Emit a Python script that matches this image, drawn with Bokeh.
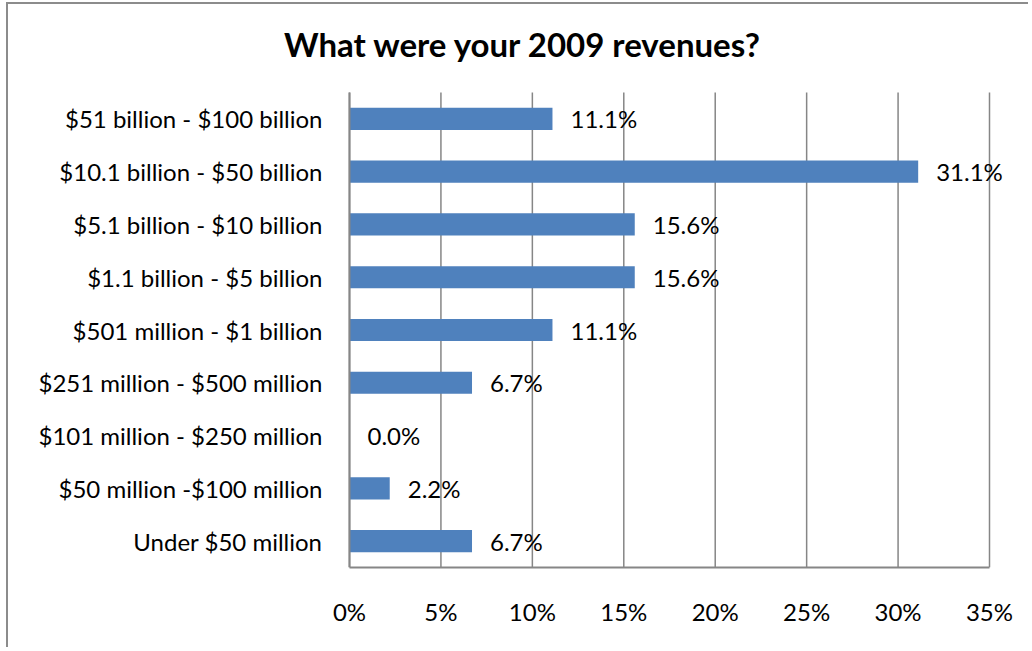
from bokeh.plotting import figure
from bokeh.models import ColumnDataSource, LabelSet, Label, PrintfTickFormatter, FixedTicker, Range1d
from bokeh.core.properties import value
from bokeh.embed import file_html
from bokeh.resources import INLINE

categories = [
    "$51 billion - $100 billion",
    "$10.1 billion - $50 billion",
    "$5.1 billion - $10 billion",
    "$1.1 billion - $5 billion",
    "$501 million - $1 billion",
    "$251 million - $500 million",
    "$101 million - $250 million",
    "$50 million -$100 million",
    "Under $50 million",
]
values = [11.1, 31.1, 15.6, 15.6, 11.1, 6.7, 0.0, 2.2, 6.7]
x_ticks = [0, 5, 10, 15, 20, 25, 30, 35]
title_text = "What were your 2009 revenues?"

FONT = "Lato"
GRAY = "#868686"
FS = "24px"

n = len(categories)
# category slot centres, top category highest
ypos = [n - i - 0.5 for i in range(n)]

src = ColumnDataSource(dict(
    y=ypos,
    value=values,
    label=[f"{v:.1f}%" for v in values],
))

# frame geometry (px) -> ranges
W, H = 1022, 645
left_px, bottom_px = 341, 82
plot_w_px = 640          # 0..35 %
plot_h_px = 475          # the nine category slots
top_extra_px = H - bottom_px - plot_h_px
right_extra_px = W - left_px - plot_w_px
xmax = x_ticks[-1]
ux = xmax / plot_w_px
uy = n / plot_h_px
x_start = -left_px * ux
x_end = xmax + right_extra_px * ux
y_end = n + top_extra_px * uy

p = figure(
    x_range=Range1d(x_start, x_end), y_range=Range1d(0, y_end),
    width=W, height=H,
    output_backend="svg", toolbar_location=None,
    min_border_left=0, min_border_right=0,
    min_border_top=0, min_border_bottom=bottom_px,
)
p.title = None
p.styles = {"border-left": "2px solid #8c8c8c", "border-top": "2px solid #8c8c8c",
            "margin-left": "6px", "margin-top": "2px"}
p.background_fill_color = "white"
p.border_fill_color = "white"
p.outline_line_color = None

# vertical gridlines (under the bars)
p.segment(x0=x_ticks, y0=[0] * len(x_ticks), x1=x_ticks, y1=[n] * len(x_ticks),
          line_color=GRAY, line_width=1.5)

p.hbar(y="y", left=0, right="value", height=0.42, source=src,
       fill_color="#4F81BD", line_color=None)

p.add_layout(LabelSet(x="value", y="y", text="label", source=src,
                      x_offset=18, text_align="left", text_baseline="middle",
                      text_font=value(FONT), text_font_size=FS, text_color="#000000"))

p.add_layout(Label(x=9.49, y=n + 49 * uy, text=title_text,
                   text_align="center", text_baseline="alphabetic",
                   text_font=FONT, text_font_style="bold",
                   text_font_size="33px", text_color="#000000"))

p.xaxis.ticker = FixedTicker(ticks=x_ticks)
p.xaxis.bounds = (0, xmax)
p.xaxis.formatter = PrintfTickFormatter(format="%d%%")
p.xaxis.major_tick_out = 0
p.xaxis.major_tick_in = 0
p.xaxis.minor_tick_out = 0
p.xaxis.minor_tick_in = 0
p.xaxis.major_label_standoff = 29
p.xaxis.axis_line_color = GRAY
p.xaxis.axis_line_width = 2
p.xaxis.major_label_text_font = FONT
p.xaxis.major_label_text_font_size = FS
p.xaxis.major_label_text_color = "#000000"

p.yaxis.fixed_location = 0
p.yaxis.ticker = FixedTicker(ticks=ypos)
p.yaxis.major_label_overrides = {y: c for y, c in zip(ypos, categories)}
p.yaxis.bounds = (0, n)
p.yaxis.major_tick_out = 0
p.yaxis.major_tick_in = 0
p.yaxis.minor_tick_out = 0
p.yaxis.minor_tick_in = 0
p.yaxis.major_label_standoff = 27
p.yaxis.axis_line_color = GRAY
p.yaxis.axis_line_width = 2
p.yaxis.major_label_text_font = FONT
p.yaxis.major_label_text_font_size = FS
p.yaxis.major_label_text_color = "#000000"

p.xgrid.grid_line_color = None
p.ygrid.grid_line_color = None

open("out.html", "w").write(file_html(p, INLINE))
